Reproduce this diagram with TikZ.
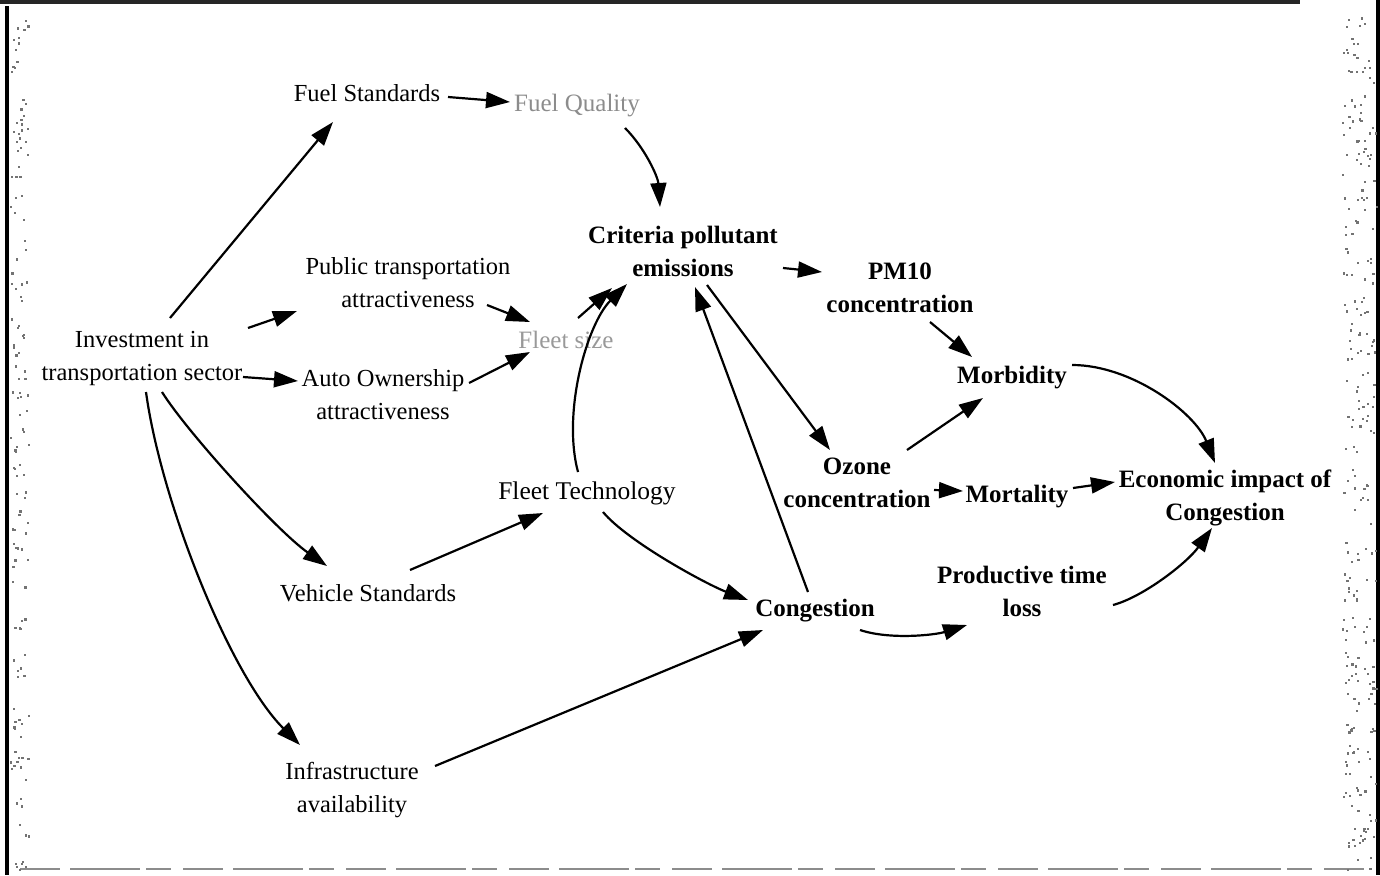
\documentclass[tikz,border=0pt]{standalone}
\usepackage{fontspec}
\setmainfont{Liberation Serif}
\usetikzlibrary{arrows.meta}
\begin{document}
\begin{tikzpicture}[x=1pt,y=-1pt,
  lbl/.style={inner sep=0pt, align=center, font=\fontsize{24.5}{33}\selectfont},
  blbl/.style={inner sep=0pt, align=center, font=\fontsize{25}{33}\selectfont\bfseries},
  arr/.style={line width=2.2pt, -{Triangle[length=24pt,width=16pt]}},
]
\useasboundingbox (0,0) rectangle (1380,875);

% scanned page frame
\fill[black!85] (0,0) rectangle (1300,4);
\fill[black] (5,6) rectangle (9,875);
\fill[black] (1376,0) rectangle (1380,875);
\draw[black!45, line width=2pt, dash pattern=on 40pt off 10pt on 70pt off 6pt on 25pt off 12pt] (20,869) -- (1370,869);
\pgfmathsetseed{7}
\foreach \i in {1,...,260}{
  \pgfmathsetmacro{\px}{1342+34*rnd}
  \pgfmathsetmacro{\py}{10+860*rnd}
  \fill[black!55] (\px,\py) rectangle ++(2.2,2.2);
}
\foreach \i in {1,...,140}{
  \pgfmathsetmacro{\px}{10+18*rnd}
  \pgfmathsetmacro{\py}{10+860*rnd}
  \fill[black!55] (\px,\py) rectangle ++(2.2,2.2);
}

% factors
\node[lbl] (fs)  at (367,93)  {Fuel Standards};
\node[lbl, text=black!45, font=\fontsize{25}{33}\selectfont] (fq) at (577,106) {Fuel Quality};
\node[blbl] (cpe) at (683,251) {Criteria pollutant\\emissions};
\node[lbl] (pta) at (408,283) {Public transportation\\attractiveness};
\node[lbl] (inv) at (142,358) {Investment in\\transportation sector};
\node[lbl] (aoa) at (383,395) {Auto Ownership\\attractiveness};
\node[lbl, text=black!40, font=\fontsize{25}{33}\selectfont] (fsz) at (566,340) {Fleet size};
\node[blbl] (pm)  at (900,288) {PM10\\concentration};
\node[blbl] (mor) at (1012,378) {Morbidity};
\node[blbl] (oz)  at (857,483) {Ozone\\concentration};
\node[blbl] (mrt) at (1017,497) {Mortality};
\node[blbl] (eic) at (1225,498) {Economic impact of\\Congestion};
\node[lbl, text=black, font=\fontsize{25.5}{33}\selectfont] (ft) at (587,493) {Fleet Technology};
\node[lbl] (vs)  at (368,593) {Vehicle Standards};
\node[blbl] (con) at (815,611) {Congestion};
\node[blbl] (ptl) at (1022,591) {Productive time\\loss};
\node[lbl] (ia)  at (352,790) {Infrastructure\\availability};

% causal links
\draw[arr] ([shift={(28,-40)}]inv.center) -- ([shift={(-34,29)}]fs.center);
\draw[arr] ([shift={(81,4)}]fs.center) -- ([shift={(-67,-4)}]fq.center);
\draw[arr] ([shift={(48,22)}]fq.center) .. controls +(20,20) and +(-2,-30) .. ([shift={(-23,-44)}]cpe.center);
\draw[arr] ([shift={(106,-30)}]inv.center) -- ([shift={(-111,28)}]pta.center);
\draw[arr] ([shift={(101,19)}]inv.center) -- ([shift={(-85,-14)}]aoa.center);
\draw[arr] ([shift={(79,22)}]pta.center) -- ([shift={(-36,-18)}]fsz.center);
\draw[arr] ([shift={(86,-12)}]aoa.center) -- ([shift={(-36,12)}]fsz.center);
\draw[arr] ([shift={(12,-22)}]fsz.center) -- ([shift={(-71,37)}]cpe.center);
\draw[arr] ([shift={(-9,-21)}]ft.center) .. controls +(-16,-60) and +(-40,40) .. ([shift={(-56,33)}]cpe.center);
\draw[arr] ([shift={(100,17)}]cpe.center) -- ([shift={(-78,-16)}]pm.center);
\draw[arr] ([shift={(24,34)}]cpe.center) -- ([shift={(-27,-33)}]oz.center);
\draw[arr] ([shift={(-7,-19)}]con.center) -- ([shift={(12,36)}]cpe.center);
\draw[arr] ([shift={(30,34)}]pm.center) -- ([shift={(-40,-21)}]mor.center);
\draw[arr] ([shift={(50,-33)}]oz.center) -- ([shift={(-29,20)}]mor.center);
\draw[arr] ([shift={(77,7)}]oz.center) -- ([shift={(-54,-6)}]mrt.center);
\draw[arr] ([shift={(56,-9)}]mrt.center) -- ([shift={(-110,-16)}]eic.center);
\draw[arr] ([shift={(60,-13)}]mor.center) .. controls +(60,0) and +(-20,-50) .. ([shift={(-10,-35)}]eic.center);
\draw[arr] ([shift={(91,14)}]ptl.center) .. controls +(30,-8) and +(-25,35) .. ([shift={(-13,30)}]eic.center);
\draw[arr] ([shift={(20,34)}]inv.center) .. controls +(25,40) and +(-50,-35) .. ([shift={(-41,-27)}]vs.center);
\draw[arr] ([shift={(42,-23)}]vs.center) -- ([shift={(-44,20)}]ft.center);
\draw[arr] ([shift={(16,19)}]ft.center) .. controls +(25,30) and +(-40,-15) .. ([shift={(-67,-11)}]con.center);
\draw[arr] ([shift={(45,19)}]con.center) .. controls +(30,10) and +(-32,10) .. ([shift={(-55,34)}]ptl.center);
\draw[arr] ([shift={(83,-24)}]ia.center) -- ([shift={(-52,19)}]con.center);
\draw[arr] ([shift={(4,34)}]inv.center) .. controls +(15,110) and +(-70,-70) .. ([shift={(-52,-45)}]ia.center);
\end{tikzpicture}
\end{document}
